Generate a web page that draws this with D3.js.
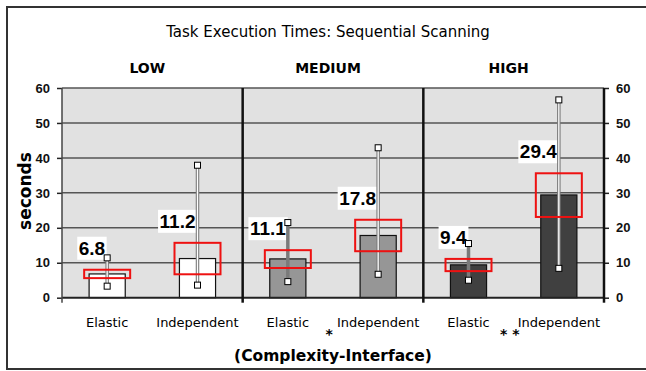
<!DOCTYPE html>
<html><head><meta charset="utf-8">
<script src="https://cdn.jsdelivr.net/npm/d3@7"></script>
<style>
body{margin:0;background:#fff;}
svg{display:block;font-family:"DejaVu Sans",sans-serif;}
</style></head>
<body><svg id="c" width="646" height="371"></svg>
<script>
const title = "Task Execution Times: Sequential Scanning";
const complexity = ["LOW", "MEDIUM", "HIGH"];
const interfaces = ["Elastic", "Independent"];
const means   = [6.8, 11.2, 11.1, 17.8, 9.4, 29.4];
const errLow  = [3.3, 3.6, 4.6, 6.7, 5.0, 8.4];
const errHigh = [11.4, 37.9, 21.5, 42.9, 15.5, 56.6];
const ciLow   = [5.6, 6.7, 8.5, 13.3, 7.6, 23.1];
const ciHigh  = [8.0, 15.7, 13.6, 22.3, 11.1, 35.6];
const significance = ["", "", "", "*", "", "* *"];
const yTicks = [0, 10, 20, 30, 40, 50, 60];
const yTitle = "seconds";
const xTitle = "(Complexity-Interface)";

const groupFill = {LOW: "#ffffff", MEDIUM: "#969696", HIGH: "#404040"};
const rows = means.map((m, i) => ({
  id: i, comp: complexity[Math.floor(i / 2)], iface: interfaces[i % 2],
  mean: m, lo: errLow[i], hi: errHigh[i], ciLo: ciLow[i], ciHi: ciHigh[i], sig: significance[i]
}));

const svg = d3.select("#c");
const L = 62, R = 604, T = 88, B = 297.7;
const y = d3.scaleLinear().domain([0, 60]).range([B, T]);
const x = d3.scaleBand().domain(rows.map(d => d.id)).range([L, R]).paddingInner(0.6).paddingOuter(0.3);
const g = d3.scaleBand().domain(complexity).range([L, R]);
const cxOf = d => x(d.id) + x.bandwidth() / 2;

// outer border
svg.append("rect").attr("x", 7).attr("y", 7).attr("width", 660).attr("height", 362)
  .attr("fill", "none").attr("stroke", "#333").attr("stroke-width", 2);

// plot background
svg.append("rect").attr("x", L).attr("y", T).attr("width", R - L).attr("height", B - T).attr("fill", "#e1e1e1");

// gridlines
svg.append("g").selectAll("line").data(yTicks.filter(t => t > 0)).join("line")
  .attr("x1", L).attr("x2", R).attr("y1", d => y(d)).attr("y2", d => y(d))
  .attr("stroke", "#555").attr("stroke-width", 1.5);

// axes
const yl = svg.append("g").attr("transform", `translate(${L},0)`)
  .call(d3.axisLeft(y).tickValues(yTicks).tickSize(5).tickPadding(7));
const yr = svg.append("g").attr("transform", `translate(${R},0)`)
  .call(d3.axisRight(y).tickValues(yTicks).tickSize(5).tickPadding(7));
[yl, yr].forEach(a => {
  a.select(".domain").remove();
  a.selectAll(".tick line").attr("stroke", "#222").attr("stroke-width", 1.5);
  a.selectAll("text").attr("font-size", 13).attr("font-weight", "bold").attr("fill", "#111");
});

// bars
svg.append("g").selectAll("rect").data(rows).join("rect")
  .attr("x", d => x(d.id)).attr("width", x.bandwidth())
  .attr("y", d => y(d.mean)).attr("height", d => y(0) - y(d.mean))
  .attr("fill", d => groupFill[d.comp]).attr("stroke", "#111").attr("stroke-width", 1.2);

// x baseline
svg.append("line").attr("x1", L).attr("x2", R).attr("y1", B).attr("y2", B)
  .attr("stroke", "#222").attr("stroke-width", 2);

// vertical axis lines and group dividers
const divs = [L].concat(complexity.slice(1).map(c => g(c))).concat([R]);
svg.append("g").selectAll("line").data(divs).join("line")
  .attr("x1", d => d).attr("x2", d => d).attr("y1", T).attr("y2", B + 5)
  .attr("stroke", (d, i) => (i === 0 ? "#444" : "#111"))
  .attr("stroke-width", (d, i) => (i === 0 ? 1.5 : 2.5));

// value labels (drawn under the error bars)
const vl = svg.append("g");
rows.forEach(d => {
  const t = vl.append("text").attr("x", cxOf(d) - 2).attr("y", y(d.ciHi) - 15)
    .attr("text-anchor", "end").attr("font-family", "'Liberation Sans', Arial, sans-serif")
    .attr("font-size", 19).attr("font-weight", "bold")
    .attr("fill", "#000").text(d.mean.toFixed(1));
  const bb = t.node().getBBox();
  vl.insert("rect", "text").attr("x", bb.x - 1.5).attr("y", y(d.ciHi) - 33)
    .attr("width", bb.width + 3).attr("height", 23).attr("fill", "#fff");
});

// error bars
const eb = svg.append("g");
rows.forEach(d => {
  const cx = cxOf(d);
  eb.append("line").attr("x1", cx).attr("x2", cx).attr("y1", y(d.hi)).attr("y2", y(d.lo))
    .attr("stroke", "#7a7a7a").attr("stroke-width", 3.5);
  const solid = d.iface === "Elastic" && d.comp !== "LOW";
  if (!solid) {
    eb.append("line").attr("x1", cx).attr("x2", cx).attr("y1", y(d.hi)).attr("y2", y(d.lo))
      .attr("stroke", "#fff").attr("stroke-width", 1.3);
  }
  [d.hi, d.lo].forEach(v => {
    eb.append("rect").attr("x", cx - 3).attr("y", y(v) - 3).attr("width", 6).attr("height", 6)
      .attr("fill", "#fff").attr("stroke", "#000").attr("stroke-width", 1);
  });
});

// confidence boxes
svg.append("g").selectAll("rect").data(rows).join("rect")
  .attr("x", d => cxOf(d) - 23).attr("width", 46)
  .attr("y", d => y(d.ciHi)).attr("height", d => y(d.ciLo) - y(d.ciHi))
  .attr("fill", "none").attr("stroke", "#ee1111").attr("stroke-width", 2);

// category labels
svg.append("g").selectAll("text").data(rows).join("text")
  .attr("x", d => cxOf(d)).attr("y", 327)
  .attr("text-anchor", "middle").attr("font-size", 13).attr("fill", "#000")
  .attr("font-weight", 500).text(d => d.iface);

// significance markers
svg.append("g").selectAll("text").data(rows.filter(d => d.sig)).join("text")
  .attr("x", d => cxOf(d) - 49).attr("y", 339)
  .attr("text-anchor", "middle").attr("font-size", 14).attr("font-weight", "bold")
  .text(d => d.sig);

// group labels
svg.append("g").selectAll("text").data(complexity).join("text")
  .attr("x", d => g(d) + g.bandwidth() / 2 - 5).attr("y", 73)
  .attr("text-anchor", "middle").attr("font-size", 14).attr("font-weight", "bold")
  .text(d => d);

// title
svg.append("text").attr("x", 328).attr("y", 37).attr("text-anchor", "middle")
  .attr("font-size", 15).attr("font-weight", 500).text(title);

// axis titles
svg.append("text").attr("transform", "translate(31,191) rotate(-90)").attr("text-anchor", "middle")
  .attr("font-size", 17).attr("font-weight", "bold").text(yTitle);
svg.append("text").attr("x", 333).attr("y", 361).attr("text-anchor", "middle")
  .attr("font-size", 15.5).attr("font-weight", "bold").text(xTitle);
</script></body></html>
